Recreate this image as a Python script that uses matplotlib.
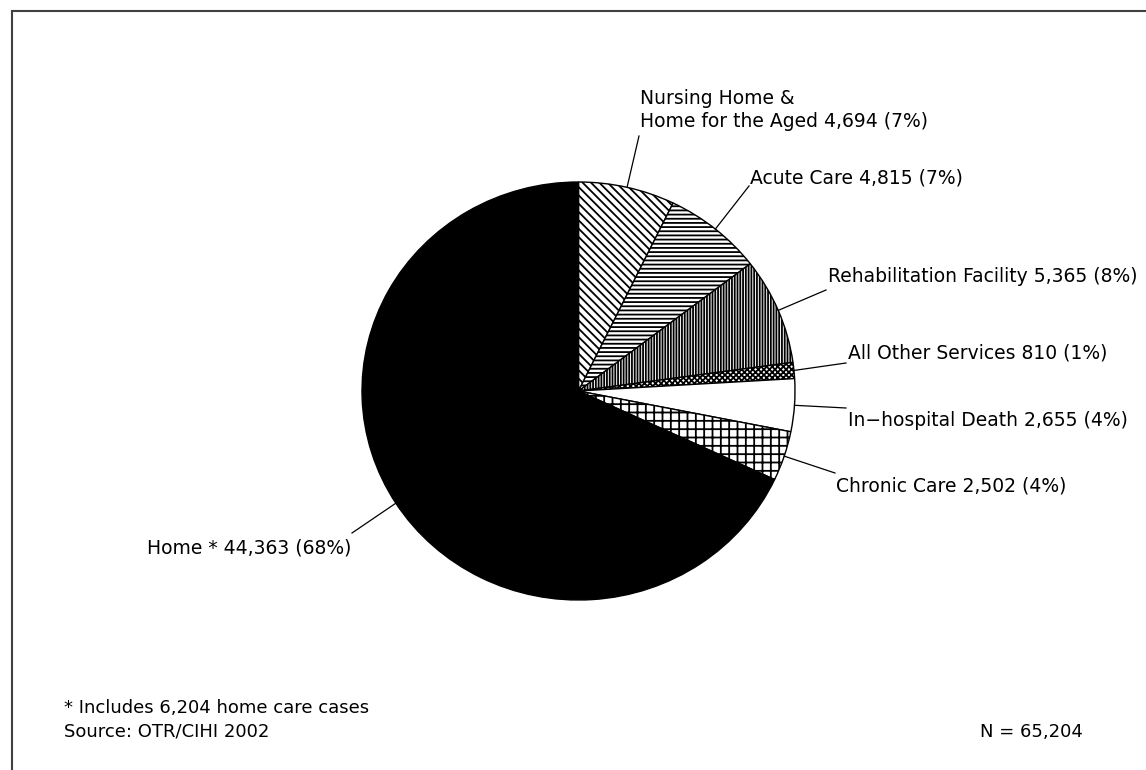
import numpy as np
import matplotlib
matplotlib.use("Agg")
import matplotlib.pyplot as plt

plt.rcParams['font.family'] = ['DejaVu Sans']
plt.rcParams['hatch.linewidth'] = 1.3

# discharge destinations, clockwise from 12 o'clock
destinations = ["Nursing Home &\nHome for the Aged", "Acute Care",
                "Rehabilitation Facility", "All Other Services",
                "In\u2212hospital Death", "Chronic Care", "Home *"]
cases = [4694, 4815, 5365, 810, 2655, 2502, 44363]
fills = ["white", "white", "white", "white", "white", "white", "black"]
hatches = ["\\\\\\\\", "----", "||||||", "xxxxxx", "", "++", ""]

footnote = "* Includes 6,204 home care cases"
source = "Source: OTR/CIHI 2002"

W, H = 1146, 770
fig = plt.figure(figsize=(W / 100, H / 100), dpi=100)

# pie box in pixels (left, top, right, bottom); slightly wider than tall
left, top, right, bottom = 362, 182, 795, 600
cx, cy = (left + right) / 2, (top + bottom) / 2
rx, ry = (right - left) / 2, (bottom - top) / 2

ax = fig.add_axes([left / W, 1 - bottom / H, (right - left) / W, (bottom - top) / H])
wedges, _ = ax.pie(cases, colors=fills, hatch=hatches, startangle=90,
                   counterclock=False, radius=1,
                   wedgeprops=dict(edgecolor="black", linewidth=1.0),
                   frame=True)
ax.set_xlim(-1, 1)
ax.set_ylim(-1, 1)
ax.set_aspect('auto')
ax.axis('off')

# overlay in pixel coordinates for leaders and text
ov = fig.add_axes([0, 0, 1, 1])
ov.set_xlim(0, W)
ov.set_ylim(H, 0)
ov.axis('off')
ov.patch.set_alpha(0)

total = sum(cases)

# where each leader line ends and where its label sits
leader_end = [(639, 136), (749, 186), (826, 290), (846, 363),
              (846, 408), (835, 473), (352, 533)]
label_at = [(640, 110, 'left'), (750, 178, 'left'), (828, 277, 'left'),
            (848, 353, 'left'), (848, 421, 'left'), (836, 486, 'left'),
            (351, 548, 'right')]

for w, name, n, end, lab in zip(wedges, destinations, cases, leader_end, label_at):
    mid = np.deg2rad((w.theta1 + w.theta2) / 2)
    x0 = cx + rx * np.cos(mid)
    y0 = cy - ry * np.sin(mid)
    ov.plot([x0, end[0]], [y0, end[1]], color="black", lw=0.9)
    pct = round(100 * n / total)
    ov.text(lab[0], lab[1], f"{name} {n:,} ({pct}%)", ha=lab[2],
            va='center', fontsize=13.5, linespacing=1.3)

ov.text(64, 708, footnote, ha='left', va='center', fontsize=13)
ov.text(64, 732, source, ha='left', va='center', fontsize=13)
ov.text(1083, 732, f"N = {total:,}", ha='right', va='center', fontsize=13)

# window-style border along the top and left edges
ov.plot([12, W], [11, 11], color="#404040", lw=1.5, clip_on=False)
ov.plot([12, 12], [11, H], color="#404040", lw=1.5, clip_on=False)

fig.savefig("out.png", dpi=100)
